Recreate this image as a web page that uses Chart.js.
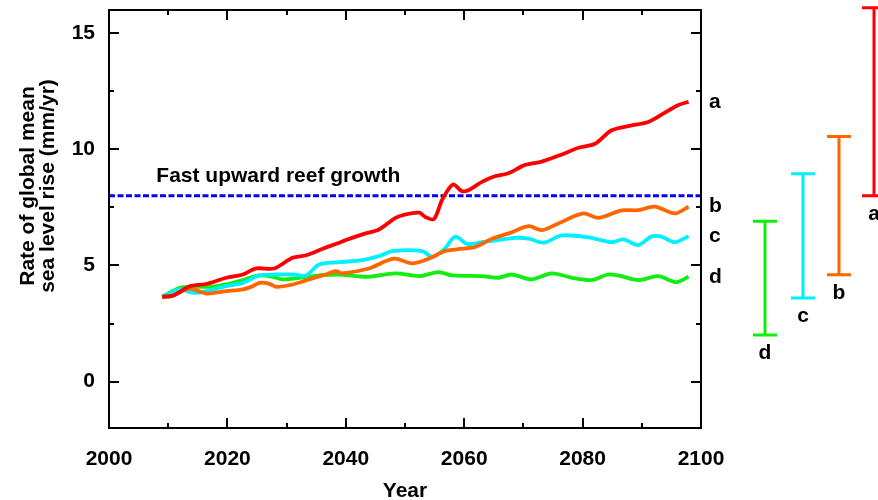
<!DOCTYPE html>
<html lang="en">
<head>
    <meta charset="UTF-8">
    <title>Rate of global mean sea level rise</title>
    <script src="https://cdn.jsdelivr.net/npm/chart.js"></script>
    <style>
        body { margin: 0; padding: 0; background: #ffffff; }
        canvas { display: block; }
    </style>
</head>
<body>
    <canvas id="seaChart" width="878" height="500"></canvas>

    <script>
        // Scenario curves (year, mm/yr)
        const aYears = [2009, 2010.8, 2013.6, 2016.4, 2019.8, 2022.6, 2024.9, 2027.9, 2031, 2033.3, 2036.1, 2038.9, 2040, 2042.8, 2045.6, 2048.4, 2050.1, 2052.4, 2053.5, 2054.9, 2056.3, 2058.1, 2059.6, 2060.8, 2063, 2065.3, 2067.5, 2070.3, 2073.1, 2076.5, 2079.3, 2082.1, 2084.9, 2088.3, 2091.1, 2093.9, 2096.1, 2097.9];
        const aRate  = [3.66, 3.7, 4.1, 4.2, 4.47, 4.61, 4.87, 4.87, 5.33, 5.44, 5.72, 5.98, 6.09, 6.34, 6.55, 7.05, 7.2, 7.27, 7.08, 7.0, 7.84, 8.49, 8.2, 8.25, 8.6, 8.85, 8.97, 9.33, 9.47, 9.78, 10.07, 10.24, 10.82, 11.03, 11.18, 11.58, 11.9, 12.05];

        const bYears = [2009, 2010.8, 2013.6, 2016.4, 2019.8, 2022.6, 2024.3, 2025.4, 2027.1, 2028.2, 2031, 2033.8, 2036.6, 2038.3, 2039.4, 2043.9, 2048.1, 2051.2, 2054, 2056.8, 2059.6, 2061.9, 2064.7, 2067.5, 2070.9, 2073.1, 2075.9, 2080.1, 2082.6, 2086.6, 2089.4, 2092.2, 2095.6, 2097.9];
        const bRate  = [3.62, 3.7, 4.0, 3.79, 3.89, 3.97, 4.11, 4.25, 4.21, 4.08, 4.18, 4.4, 4.61, 4.75, 4.66, 4.87, 5.29, 5.09, 5.29, 5.62, 5.72, 5.8, 6.15, 6.38, 6.69, 6.52, 6.81, 7.24, 7.05, 7.37, 7.38, 7.53, 7.24, 7.53];

        const cYears = [2009, 2012, 2014.2, 2016.4, 2019.8, 2022.6, 2025.4, 2028.2, 2031, 2033.3, 2035.5, 2038.9, 2042.8, 2045.6, 2047.9, 2052.9, 2054.6, 2056.6, 2058.5, 2060.5, 2063, 2065.8, 2068.6, 2070.9, 2073.4, 2076.5, 2081, 2084.9, 2086.9, 2089.4, 2091.6, 2093.3, 2095.6, 2097.9];
        const cRate  = [3.66, 3.97, 3.82, 3.89, 4.11, 4.25, 4.57, 4.61, 4.61, 4.57, 5.04, 5.14, 5.23, 5.4, 5.62, 5.62, 5.37, 5.69, 6.24, 5.93, 6.0, 6.09, 6.19, 6.15, 5.98, 6.29, 6.21, 6.0, 6.12, 5.88, 6.24, 6.24, 6.0, 6.26];

        const dYears = [2009, 2012, 2014.2, 2017, 2019.8, 2022.6, 2025.4, 2027.7, 2029.3, 2032.2, 2035.5, 2038.9, 2041.7, 2043.9, 2048.4, 2052.4, 2055.7, 2058, 2063, 2065.8, 2068, 2071.4, 2074.8, 2078.2, 2081.5, 2084.3, 2086, 2089.4, 2092.8, 2095.8, 2097.9];
        const dRate  = [3.66, 4.04, 4.08, 4.08, 4.18, 4.37, 4.57, 4.51, 4.4, 4.47, 4.57, 4.61, 4.54, 4.51, 4.66, 4.54, 4.71, 4.57, 4.54, 4.47, 4.61, 4.4, 4.66, 4.47, 4.37, 4.61, 4.57, 4.37, 4.54, 4.28, 4.51];

        // Fast upward reef growth threshold
        const reefYears = [2000, 2100];
        const reefRate = [8, 8];

        // Ranges shown at the right (a, b, c, d)
        const rangeNames = ['a', 'b', 'c', 'd'];
        const rangeLow  = [8.0, 4.6, 3.6, 2.0];
        const rangeHigh = [16.1, 10.55, 8.95, 6.9];

        const seriesNames  = ['a', 'b', 'c', 'd'];
        const seriesColors = ['#ff0000', '#ff6600', '#00f0ff', '#11ee11'];

        const xMajor = [2000, 2020, 2040, 2060, 2080, 2100];
        const xMinor = [2010, 2030, 2050, 2070, 2090];
        const yMajor = [0, 5, 10, 15];
        const yMinor = [2.5, 7.5, 12.5];

        const FONT = 'Liberation Sans, Arial, Helvetica, sans-serif';
        const FONT_CSS = 'bold 21px ' + FONT;

        const toPoints = (xs, ys) => xs.map((x, i) => ({ x: x, y: ys[i] }));

        const seriesData = [
            toPoints(aYears, aRate),
            toPoints(bYears, bRate),
            toPoints(cYears, cRate),
            toPoints(dYears, dRate)
        ];

        // frame, inward ticks, labels and the range bars
        const decorPlugin = {
            id: 'decor',
            afterDraw(chart) {
                const ctx = chart.ctx;
                const area = chart.chartArea;
                const xs = chart.scales.x;
                const ys = chart.scales.y;
                ctx.save();
                ctx.strokeStyle = '#000';
                ctx.lineWidth = 2;
                ctx.strokeRect(area.left, area.top, area.right - area.left, area.bottom - area.top);

                ctx.beginPath();
                const xTick = (v, len) => {
                    const px = Math.round(xs.getPixelForValue(v));
                    ctx.moveTo(px, area.bottom); ctx.lineTo(px, area.bottom - len);
                    ctx.moveTo(px, area.top); ctx.lineTo(px, area.top + len);
                };
                const yTick = (v, len) => {
                    const py = Math.round(ys.getPixelForValue(v));
                    ctx.moveTo(area.left, py); ctx.lineTo(area.left + len, py);
                    ctx.moveTo(area.right, py); ctx.lineTo(area.right - len, py);
                };
                xMajor.forEach(v => xTick(v, 10));
                xMinor.forEach(v => xTick(v, 5));
                yMajor.forEach(v => yTick(v, 10));
                yMinor.forEach(v => yTick(v, 5));
                ctx.stroke();

                ctx.fillStyle = '#000';
                ctx.font = FONT_CSS;
                ctx.textBaseline = 'alphabetic';
                ctx.textAlign = 'left';
                ctx.fillText('Fast upward reef growth', xs.getPixelForValue(2008), ys.getPixelForValue(reefRate[0]) - 14);

                // y axis title, two lines, rotated
                ctx.save();
                ctx.translate(0, area.top + 176);
                ctx.rotate(-Math.PI / 2);
                ctx.textAlign = 'center';
                ctx.textBaseline = 'middle';
                ctx.fillText('Rate of global mean', 0, 28);
                ctx.fillText('sea level rise (mm/yr)', 0, 48);
                ctx.restore();

                // end-of-curve letters
                ctx.textBaseline = 'middle';
                seriesData.forEach((pts, i) => {
                    const last = pts[pts.length - 1];
                    ctx.fillText(seriesNames[i], area.right + 8, ys.getPixelForValue(last.y));
                });

                // range bars outside the plot
                const barOffsets = [173, 138, 102, 64];
                ctx.lineWidth = 3;
                rangeNames.forEach((name, i) => {
                    const bx = area.right + barOffsets[i];
                    const yTop = ys.getPixelForValue(rangeHigh[i]);
                    const yBot = ys.getPixelForValue(rangeLow[i]);
                    ctx.strokeStyle = seriesColors[i];
                    ctx.beginPath();
                    ctx.moveTo(bx, yTop); ctx.lineTo(bx, yBot);
                    ctx.moveTo(bx - 12, yTop); ctx.lineTo(bx + 12, yTop);
                    ctx.moveTo(bx - 12, yBot); ctx.lineTo(bx + 12, yBot);
                    ctx.stroke();
                    ctx.fillStyle = '#000';
                    ctx.textAlign = 'center';
                    ctx.fillText(name, bx, yBot + 18);
                });
                ctx.restore();
            }
        };

        const datasets = seriesData.map((pts, i) => ({
            label: seriesNames[i],
            data: pts,
            borderColor: seriesColors[i],
            borderWidth: 3.8,
            pointRadius: 0,
            tension: 0.3,
            fill: false
        }));
        datasets.push({
            label: 'Fast upward reef growth',
            data: toPoints(reefYears, reefRate),
            borderColor: '#0000ff',
            borderWidth: 3,
            borderDash: [6, 2.5],
            pointRadius: 0,
            fill: false
        });

        const ctx = document.getElementById('seaChart').getContext('2d');
        new Chart(ctx, {
            type: 'line',
            data: { datasets: datasets },
            options: {
                responsive: false,
                animation: false,
                devicePixelRatio: 1,
                layout: { padding: { top: 10, right: 177, left: 0, bottom: 0 } },
                plugins: {
                    legend: { display: false },
                    tooltip: { enabled: false }
                },
                scales: {
                    x: {
                        type: 'linear',
                        min: 2000,
                        max: 2100,
                        grid: { display: false, drawTicks: false },
                        border: { display: false },
                        afterBuildTicks: s => { s.ticks = xMajor.map(v => ({ value: v })); },
                        afterFit: s => { s.height = 72; s.paddingLeft = 0; s.paddingRight = 0; },
                        ticks: {
                            padding: 19,
                            color: '#000',
                            font: { family: FONT, size: 21, weight: 'bold' },
                            callback: v => String(v)
                        },
                        title: {
                            display: true,
                            text: 'Year',
                            color: '#000',
                            font: { family: FONT, size: 21, weight: 'bold' },
                            padding: { top: 0, bottom: -4 }
                        }
                    },
                    y: {
                        min: -2,
                        max: 16,
                        grid: { display: false, drawTicks: false },
                        border: { display: false },
                        afterBuildTicks: s => { s.ticks = yMajor.map(v => ({ value: v })); },
                        afterFit: s => { s.width = 109; s.paddingTop = 0; s.paddingBottom = 0; },
                        ticks: {
                            padding: 14,
                            color: '#000',
                            font: { family: FONT, size: 21, weight: 'bold' }
                        }
                    }
                }
            },
            plugins: [decorPlugin]
        });
    </script>
</body>
</html>
